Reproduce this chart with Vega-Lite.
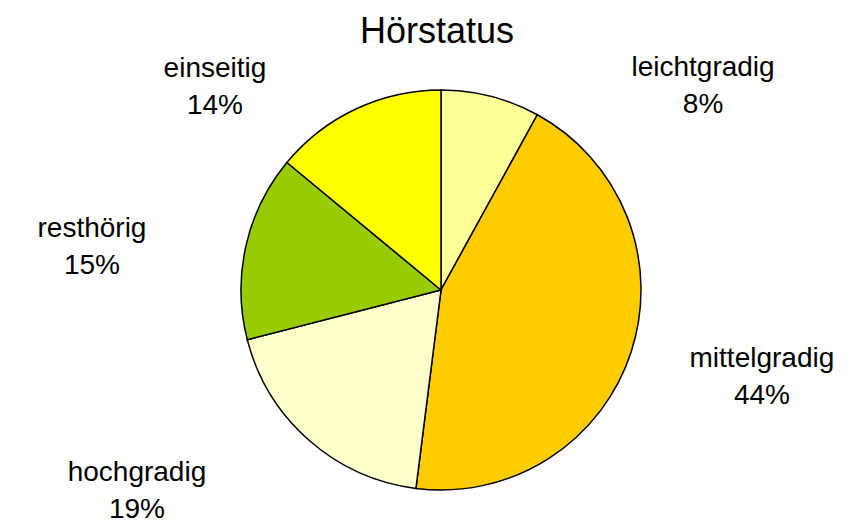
{
  "$schema": "https://vega.github.io/schema/vega-lite/v6.json",
  "width": 850,
  "height": 480,
  "padding": {"left": 16, "top": 50, "right": 0, "bottom": 0},
  "autosize": {"type": "none"},
  "background": "white",
  "config": {"view": {"stroke": null}, "font": "Liberation Sans"},
  "title": {
    "text": "Hörstatus",
    "font": "Liberation Sans",
    "fontSize": 36,
    "fontWeight": "normal",
    "color": "black",
    "baseline": "alphabetic",
    "offset": -29,
    "frame": "group",
    "anchor": "middle",
    "dx": -4
  },
  "data": {
    "values": [
      {"Nr": 1, "Hörstatus": "leichtgradig", "Anteil": 0.08},
      {"Nr": 2, "Hörstatus": "mittelgradig", "Anteil": 0.44},
      {"Nr": 3, "Hörstatus": "hochgradig", "Anteil": 0.19},
      {"Nr": 4, "Hörstatus": "resthörig", "Anteil": 0.15},
      {"Nr": 5, "Hörstatus": "einseitig", "Anteil": 0.14}
    ]
  },
  "layer": [
    {
      "mark": {"type": "arc", "outerRadius": 200, "stroke": "black", "strokeWidth": 1.5},
      "encoding": {
        "theta": {"field": "Anteil", "type": "quantitative", "stack": true},
        "order": {"field": "Nr", "type": "quantitative"},
        "color": {
          "field": "Hörstatus",
          "type": "nominal",
          "scale": {
            "domain": ["leichtgradig", "mittelgradig", "hochgradig", "resthörig", "einseitig"],
            "range": ["#FFFF99", "#FFCC00", "#FFFFCC", "#99CC00", "#FFFF00"]
          },
          "legend": null
        }
      }
    },
    {
      "mark": {"type": "text", "fontSize": 28, "baseline": "alphabetic", "align": "center", "dy": -18.5, "color": "black"},
      "encoding": {
        "theta": {
          "field": "Nr",
          "type": "quantitative",
          "stack": null,
          "scale": {"type": "linear", "zero": false, "nice": false, "domain": [1, 2, 3, 4, 5], "range": [0.930, 1.861, 4.108, 4.810, 5.423]}
        },
        "radius": {
          "field": "Nr",
          "type": "quantitative",
          "scale": {"type": "linear", "zero": false, "nice": false, "domain": [1, 2, 3, 4, 5], "range": [326.9, 334.9, 369.5, 350.7, 298.2]}
        },
        "text": {"field": "Hörstatus", "type": "nominal"}
      }
    },
    {
      "mark": {"type": "text", "fontSize": 28, "baseline": "alphabetic", "align": "center", "dy": 18.5, "color": "black"},
      "encoding": {
        "theta": {
          "field": "Nr",
          "type": "quantitative",
          "stack": null,
          "scale": {"type": "linear", "zero": false, "nice": false, "domain": [1, 2, 3, 4, 5], "range": [0.930, 1.861, 4.108, 4.810, 5.423]}
        },
        "radius": {
          "field": "Nr",
          "type": "quantitative",
          "scale": {"type": "linear", "zero": false, "nice": false, "domain": [1, 2, 3, 4, 5], "range": [326.9, 334.9, 369.5, 350.7, 298.2]}
        },
        "text": {"field": "Anteil", "type": "quantitative", "format": ".0%"}
      }
    }
  ],
  "resolve": {"scale": {"theta": "independent"}}
}
